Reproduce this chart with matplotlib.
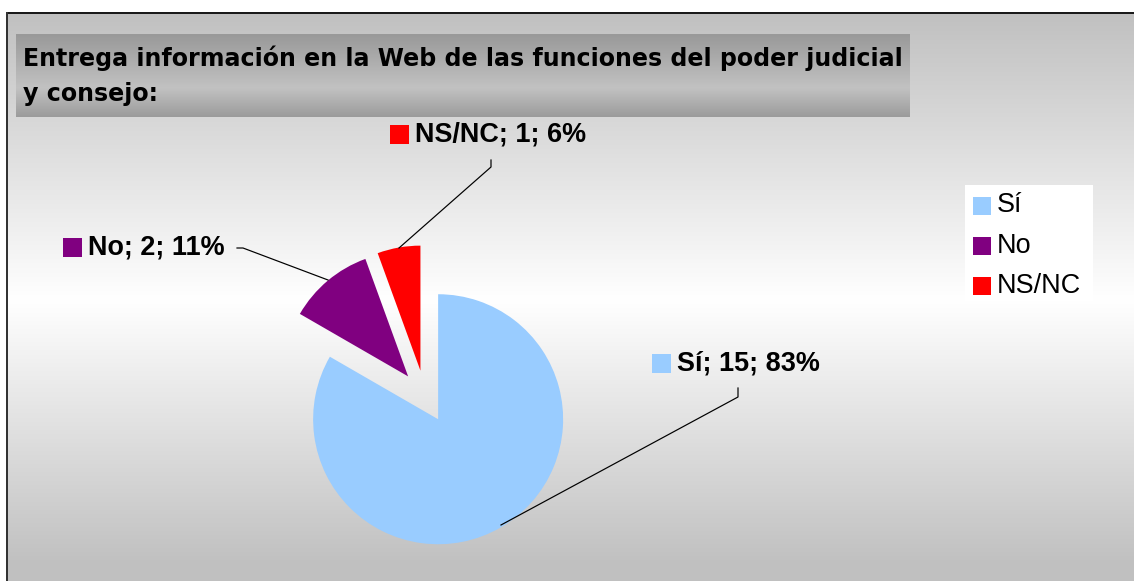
import matplotlib
matplotlib.use('Agg')
import matplotlib.pyplot as plt
import numpy as np
from matplotlib.patches import Rectangle

# ---- data ----
categories = ['Sí', 'No', 'NS/NC']
counts = [15, 2, 1]
percents = [83, 11, 6]
colors = ['#99CCFF', '#800080', '#FF0000']
title_lines = ['Entrega información en la Web de las funciones del poder judicial',
               'y consejo:']

# ---- layout (pixels, y from top) ----
W, H = 1134, 581
DPI = 100
PX = 72.0 / DPI  # points per pixel
R = 125

fig = plt.figure(figsize=(W / DPI, H / DPI), dpi=DPI)
fig.patch.set_facecolor('white')
ax = fig.add_axes([0, 0, 1, 1])

# pie (screen y inverted -> data angles mirrored)
wedges, _ = ax.pie(counts, colors=colors, startangle=-90, counterclock=True,
                   center=(425, 396.5), radius=R, explode=[0.21 * R] * len(counts),
                   wedgeprops=dict(linewidth=0, zorder=3))
ax.set_xlim(0, W)
ax.set_ylim(H, 0)
ax.set_aspect('auto')
ax.axis('off')

# chart area background gradient
ys = np.arange(12, H + 1)
v = np.interp(ys, [12, 300, 565, 600], [0.753, 1.0, 0.753, 0.753])
ax.imshow(np.repeat(v[:, None, None], 3, axis=2),
          extent=(6, W, H, 12), origin='upper', aspect='auto', zorder=0,
          interpolation='bilinear')

# border
ax.plot([6, W], [12.5, 12.5], color='#1a1a1a', lw=2 * PX, zorder=10, solid_capstyle='butt')
ax.plot([6.5, 6.5], [12, H], color='#333333', lw=2 * PX, zorder=10, solid_capstyle='butt')

# title box gradient
ty = np.arange(34, 118)
tv = np.interp(ty, [34, 88, 117], [0.60, 0.76, 0.61])
ax.imshow(np.repeat(tv[:, None, None], 3, axis=2), extent=(16, 910, 117, 34),
          origin='upper', aspect='auto', zorder=1, interpolation='bilinear')
ax.set_xlim(0, W)
ax.set_ylim(H, 0)

renderer = fig.canvas.get_renderer()


def fit_size(text, target_px, **kw):
    t = ax.text(0, 0, text, fontsize=20, **kw)
    w = t.get_window_extent(renderer).width
    t.remove()
    return 20 * target_px / w


tfont = dict(family='DejaVu Sans', weight='bold')
tsize = fit_size(title_lines[0], 882, **tfont)
ax.text(23, 66, title_lines[0], fontsize=tsize, color='black', va='baseline', ha='left', zorder=5, **tfont)
ax.text(23, 101, title_lines[1], fontsize=tsize, color='black', va='baseline', ha='left', zorder=5, **tfont)

# data labels with leader lines
lab_font = dict(family='Liberation Sans', weight='bold', fontsize=27 * PX)
label_pos = [(652, 363.5), (63, 247.5), (390, 134.5)]
leaders = [
    [(738, 388), (738, 397), (501, 525)],
    [(237, 248), (243, 248), (328, 280)],
    [(491, 160), (491, 167), (399, 248)],
]
SQ = 19
for cat, n, p, c, (lx, ly), pts in zip(categories, counts, percents, colors, label_pos, leaders):
    ax.add_patch(Rectangle((lx, ly - SQ / 2), SQ, SQ, facecolor=c, edgecolor='none', zorder=6))
    ax.text(lx + SQ + 6, ly, f'{cat}; {n}; {p}%', va='center', ha='left', color='black',
            zorder=6, **lab_font)
    xs, yl = zip(*pts)
    ax.plot(xs, yl, color='black', lw=1.2 * PX, zorder=4)

# legend
ax.add_patch(Rectangle((965, 185), 128, 116, facecolor='white', edgecolor='none', zorder=6))
leg_font = dict(family='Liberation Sans', fontsize=27 * PX)
for i, (cat, c) in enumerate(zip(categories, colors)):
    cy = 205.5 + i * 40.3
    ax.add_patch(Rectangle((973, cy - 9), 18, 18, facecolor=c, edgecolor='none', zorder=7))
    ax.text(997, cy, cat, va='center', ha='left', color='black', zorder=7, **leg_font)

fig.savefig('out.png', dpi=DPI)
